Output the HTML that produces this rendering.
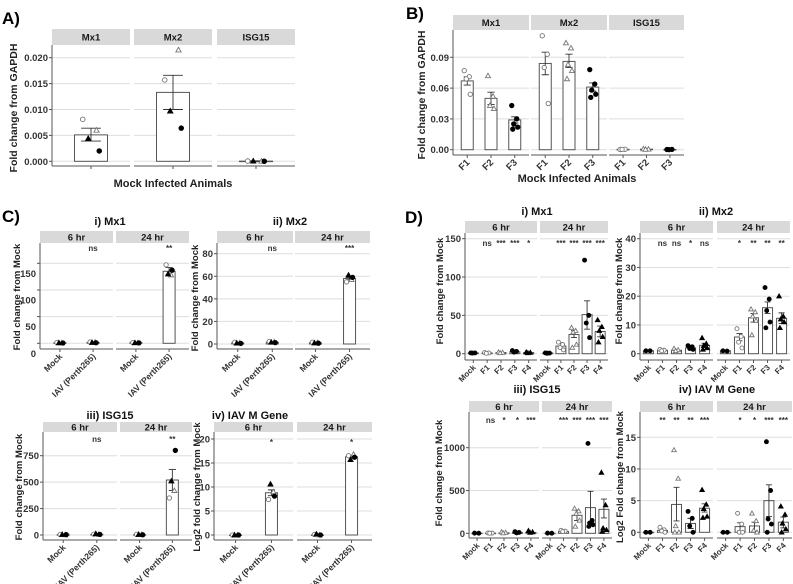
<!DOCTYPE html>
<html><head><meta charset="utf-8"><style>
html,body{margin:0;padding:0;background:#fff;}
svg{display:block;font-family:"Liberation Sans",Arial,sans-serif;}
</style></head>
<body>
<svg id="fig" width="793" height="584" viewBox="0 0 793 584" xmlns="http://www.w3.org/2000/svg">
<text x="2" y="24" font-size="17" font-weight="bold">A)</text>
<text x="406" y="19" font-size="17" font-weight="bold">B)</text>
<text x="2" y="222" font-size="17" font-weight="bold">C)</text>
<text x="405" y="223" font-size="17" font-weight="bold">D)</text>
<text x="173" y="187" font-size="11" font-weight="bold" text-anchor="middle" fill="#222">Mock Infected Animals</text>
<text x="577" y="182" font-size="11" font-weight="bold" text-anchor="middle" fill="#222">Mock Infected Animals</text>
</svg>
<script>
// ---------- DATA ----------
const A_facets = ['Mx1','Mx2','ISG15'];
const A_cats = [''];
const A_means = [[0.0051],[0.0133],[0.00003]];
const A_lo = [[0.0039],[0.0100],[0.0]];
const A_hi = [[0.0064],[0.0166],[0.0001]];
const A_pts = [[[0.0081,0.006,0.0044,0.002]],[[0.0157,0.0215,0.0097,0.0064]],[[0.00005,0.00002,0.00004,0.00001]]];
const A_ticks = [0,0.005,0.010,0.015,0.020];
const A_tickLabels = ['0.000','0.005','0.010','0.015','0.020'];

const B_facets = ['Mx1','Mx2','ISG15'];
const B_cats = ['F1','F2','F3'];
const B_means = [[0.067,0.050,0.029],[0.084,0.086,0.061],[0.0003,0.0005,0.0002]];
const B_lo = [[0.063,0.044,0.026],[0.073,0.080,0.057],[0,0,0]];
const B_hi = [[0.071,0.056,0.032],[0.095,0.093,0.065],[0.0006,0.001,0.0004]];
const B_pts = [
  [[0.077,0.071,0.069,0.054],[0.072,0.052,0.043,0.040],[0.043,0.030,0.025,0.022,0.020]],
  [[0.111,0.093,0.080,0.045],[0.104,0.099,0.083,0.077,0.069],[0.078,0.064,0.058,0.054,0.051]],
  [[0.0002,0.0004,0.0003],[0.0008,0.0005,0.0003],[0.0002,0.0003,0.0001]]];
const B_ticks = [0,0.03,0.06,0.09];
const B_tickLabels = ['0.00','0.03','0.06','0.09'];

const C_facets = ['6 hr','24 hr'];
const C_cats = ['Mock','IAV (Perth265)'];

const C1_means = [[1,1.5],[1,135]];
const C1_lo = [[0.8,1],[0.8,128]];
const C1_hi = [[1.2,2],[1.2,142]];
const C1_pts = [[[1.5,1,0.8,0.5],[2.5,2,1.5,1]],[[1.2,1,0.9,0.7],[147,128,130,137]]];
const C1_sig = [['','ns'],['','**']];
const C1_ticks = [0,50,100,150];
const C1_tickLabels = ['0','50','100','150'];

const C2_means = [[1,1.5],[1,58]];
const C2_lo = [[0.8,1.2],[0.8,57]];
const C2_hi = [[1.2,1.8],[1.2,59]];
const C2_pts = [[[1.5,1,0.8,0.5],[2.2,1.8,1.5,1.2]],[[1.5,1.2,0.9,0.7],[55,57,61,59]]];
const C2_sig = [['','ns'],['','***']];
const C2_ticks = [0,20,40,60,80];
const C2_tickLabels = ['0','20','40','60','80'];

const C3_means = [[3,6],[3,520]];
const C3_lo = [[1,4],[1,420]];
const C3_hi = [[5,8],[5,620]];
const C3_pts = [[[5,2,4,3],[8,5,12,6]],[[6,3,5,2],[350,420,510,800]]];
const C3_sig = [['','ns'],['','**']];
const C3_ticks = [0,250,500,750];
const C3_tickLabels = ['0','250','500','750'];

const C4_means = [[0,8.8],[0,16.3]];
const C4_lo = [[0,8.2],[0,16.1]];
const C4_hi = [[0,9.4],[0,16.5]];
const C4_pts = [[[0,0,0,0],[7.4,9,10.6,8.1]],[[0.1,0,0.2,0],[16.5,16.8,15.7,16.2]]];
const C4_sig = [['','*'],['','*']];
const C4_ticks = [0,5,10,15,20];
const C4_tickLabels = ['0','5','10','15','20'];

const D_facets = ['6 hr','24 hr'];
const D_cats = ['Mock','F1','F2','F3','F4'];

const D1_means = [[1,1,1.5,2.5,1.5],[1,10,25,51,29]];
const D1_lo = [[0.8,0.8,1,2,1],[0.8,7,21,32,22]];
const D1_hi = [[1.2,1.2,2,3,2],[1.2,13,30,69,36]];
const D1_pts = [
  [[1,1,0.8],[1.5,1,0.5],[2,1.5,1],[4,3,2],[2,1.5,1]],
  [[1,0.8,0.6],[15,12,8,5],[34,30,28,12,8],[122,50,40,21],[44,35,30,22,15]]];
const D1_sig = [['','ns','***','***','*'],['','***','***','***','***']];
const D1_ticks = [0,50,100,150];
const D1_tickLabels = ['0','50','100','150'];

const D2_means = [[1,1.2,1.2,2,2.9],[1,5.8,12.5,16,12.3]];
const D2_lo = [[0.9,1,1,1.6,2.2],[0.9,4.5,11,14,10.5]];
const D2_hi = [[1.1,1.4,1.4,2.4,3.6],[1.1,7,14,18,14.2]];
const D2_pts = [
  [[1,1],[1.5,1.2,1],[1.8,1.3,1],[2.8,2.4,1.8,1.5],[5.5,3.5,2.8,2,1.5]],
  [[1,0.9],[8.7,6,4,2],[15.5,14.5,13,11.5,6.5],[23,19,15,11,9],[20,13,12,11,9]]];
const D2_sig = [['','ns','ns','*','ns'],['','*','**','**','**']];
const D2_ticks = [0,10,20,30,40];
const D2_tickLabels = ['0','10','20','30','40'];

const D3_means = [[1,2,5,8,10],[1,20,210,300,280]];
const D3_lo = [[0,1,3,5,6],[0,15,150,110,180]];
const D3_hi = [[2,3,7,11,14],[2,30,270,490,400]];
const D3_pts = [
  [[2,1],[4,2,1],[15,8,3],[18,10,5],[30,15,8]],
  [[2,1],[35,25,20],[290,260,230,150,80],[1050,150,120,100,80],[710,330,60,40,20]]];
const D3_sig = [['','ns','*','*','***'],['','***','***','***','***']];
const D3_ticks = [0,500,1000];
const D3_tickLabels = ['0','500','1000'];

const D4_means = [[0,0.3,4.4,1.4,3.8],[0,0.9,1,5,1.6]];
const D4_lo = [[0,0.1,1.8,0.6,3.2],[0,0.2,0.2,2.5,0.7]];
const D4_hi = [[0,0.5,7.1,2.2,4.5],[0,1.5,1.6,7.5,2.4]];
const D4_pts = [
  [[0,0],[0.8,0.4,0.2,0],[13,8.5,1,0,0],[3.3,2.2,1,0],[6.7,4.4,3.7,2.5,2.3]],
  [[0,0],[3,1.3,0,0],[3,1.8,0.3,0],[14.3,6.6,2.1,1.3,0],[4.1,2.8,1.4,0.5,0]]];
const D4_sig = [['','**','**','**','***'],['','*','*','***','***']];
const D4_ticks = [0,5,10,15];
const D4_tickLabels = ['0','5','10','15'];

// ---------- DRAWING ----------
const NS = 'http://www.w3.org/2000/svg';
const svg = document.getElementById('fig');
function mk(tag, attrs, parent){
  const e = document.createElementNS(NS, tag);
  for (const k in attrs) e.setAttribute(k, attrs[k]);
  (parent||svg).appendChild(e);
  return e;
}
const jit = [-3,2,-1,3,-2,1];

function drawShape(g, shape, x, y, r){
  let e;
  if (shape==='oc' || shape==='fc'){
    e = mk('circle',{cx:x,cy:y,r:r,fill:shape==='fc'?'#000':'#fff',stroke:shape==='fc'?'#000':'#777','stroke-width':0.9},g);
  } else {
    const h=r*1.15;
    e = mk('polygon',{points:`${x},${y-h} ${x-h},${y+h*0.75} ${x+h},${y+h*0.75}`,fill:shape==='ft'?'#000':'#fff',stroke:shape==='ft'?'#000':'#777','stroke-width':0.9},g);
  }
  
  
}

function panel(c){
  const g = mk('g',{});
  
  
  const sy = v => c.y0 + v*(c.y1px - c.y0)/c.y1v;
  const n = c.cats.length;
  c.fx.forEach((fx, fi)=>{
    const [x0,x1] = fx;
    const fg = mk('g',{},g);
    
    
    const sr = mk('rect',{x:x0,y:c.sTop,width:x1-x0,height:c.sBot-c.sTop,fill:'#d9d9d9'},fg);
    
    
    const st = mk('text',{x:(x0+x1)/2,y:(c.sTop+c.sBot)/2+3.5,'font-size':9.5,'font-weight':'bold','text-anchor':'middle',fill:'#1a1a1a'},fg);
    st.textContent = c.facets[fi];
    
    
    c.ticks.forEach(t=>{
      const gl = mk('line',{x1:x0,x2:x1,y1:sy(t),y2:sy(t),stroke:'#dedede','stroke-width':1},fg);
      
      
    });
    const xa = mk('line',{x1:x0,x2:x1,y1:c.axisY,y2:c.axisY,stroke:'#555','stroke-width':1},fg);
    
    
    for (let i=0;i<n;i++){
      const cx = x0 + (x1-x0)*(i+0.6)/(n+0.2);
      const m = c.means[fi][i];
      const bar = mk('rect',{x:cx-c.barW/2,y:sy(m),width:c.barW,height:Math.max(0.5,sy(0)-sy(m)),fill:'#fff',stroke:'#555','stroke-width':1},fg);
      
      
      const lo = sy(c.lo[fi][i]), hi = sy(c.hi[fi][i]);
      const eb = mk('path',{d:`M${cx},${lo}V${hi}M${cx-c.barW*0.3},${lo}H${cx+c.barW*0.3}M${cx-c.barW*0.3},${hi}H${cx+c.barW*0.3}`,stroke:'#333','stroke-width':0.9,fill:'none'},fg);
      
      
      c.pts[fi][i].forEach((p,k)=>{
        const shape = c.shapeByCat ? c.shapeByCat[i] : c.shapeOrder[k % c.shapeOrder.length];
        drawShape(fg, shape, cx + jit[k % jit.length]*(c.barW/12), sy(p), c.r||2.2);
      });
      const tk = mk('line',{x1:cx,x2:cx,y1:c.axisY,y2:c.axisY+3,stroke:'#555','stroke-width':1},fg);
      
      
      if (c.cats[i]){
        const tl = mk('text',{x:cx+3,y:c.axisY+8,'font-size':c.xfs||8.5,'font-weight':'bold','text-anchor':'end',fill:'#333',transform:`rotate(-45 ${cx+3} ${c.axisY+8})`},fg);
        tl.textContent = c.cats[i];
        
        
      }
      if (c.sig && c.sig[fi][i]){
        const s = mk('text',{x:cx,y:c.sigY,'font-size':8,'font-weight':'bold','text-anchor':'middle',fill:'#333'},fg);
        s.textContent = c.sig[fi][i];
        
        
      }
    }
  });
  const ax = c.fx[0][0];
  const ya = mk('line',{x1:ax,x2:ax,y1:c.sBot,y2:c.axisY,stroke:'#555','stroke-width':1},g);
  
  
  c.ticks.forEach((t,i)=>{
    const tm = mk('line',{x1:ax-3,x2:ax,y1:sy(t),y2:sy(t),stroke:'#555','stroke-width':1},g);
    
    
    const tl = mk('text',{x:ax-4,y:sy(t)+3.5+(c.lblOff||0),'font-size':9.5,'font-weight':'bold','text-anchor':'end',fill:'#333'},g);
    tl.textContent = c.tickLabels[i];
    
    
  });
  const yt = mk('text',{x:c.ylx,y:c.yly,'font-size':c.ylfs||9.5,'font-weight':'bold','text-anchor':'middle',fill:'#222',transform:`rotate(-90 ${c.ylx} ${c.yly})`},g);
  yt.textContent = c.ylab;
  
  
  if (c.title){
    const tt = mk('text',{x:c.tx,y:c.ty,'font-size':11,'font-weight':'bold','text-anchor':'middle',fill:'#111'},g);
    tt.textContent = c.title;
    
    
  }
}

panel({name:'panel-a',facets:A_facets,cats:A_cats,means:A_means,lo:A_lo,hi:A_hi,pts:A_pts,ticks:A_ticks,tickLabels:A_tickLabels,
  fx:[[52,130],[134,212],[217,295]],y0:161.3,y1v:0.020,y1px:57.7,sTop:29,sBot:45,axisY:166,barW:33,
  shapeOrder:['oc','ot','ft','fc'],r:2.3,ylab:'Fold change from GAPDH',ylx:17,yly:108,ylfs:10.5});
panel({name:'panel-b',facets:B_facets,cats:B_cats,means:B_means,lo:B_lo,hi:B_hi,pts:B_pts,ticks:B_ticks,tickLabels:B_tickLabels,
  fx:[[453,529],[531,607],[609,684]],y0:149.7,y1v:0.09,y1px:57.3,sTop:15,sBot:30,axisY:155,barW:12,xfs:9.5,
  shapeByCat:['oc','ot','fc'],r:2.2,ylab:'Fold change from GAPDH',ylx:425,yly:95,ylfs:10.5});

const Cshapes=['oc','ot','ft','fc'];
panel({name:'panel-c-mx1',facets:C_facets,cats:C_cats,means:C1_means,lo:C1_lo,hi:C1_hi,pts:C1_pts,sig:C1_sig,ticks:C1_ticks,tickLabels:C1_tickLabels,
  fx:[[40,113],[116,189]],y0:343.3,y1v:150,y1px:263.3,lblOff:10,sTop:231,sBot:243,axisY:349,barW:12,sigY:251,
  shapeOrder:Cshapes,ylab:'Fold change from Mock',ylx:20,yly:297,title:'i) Mx1',tx:110,ty:225});
panel({name:'panel-c-mx2',facets:C_facets,cats:C_cats,means:C2_means,lo:C2_lo,hi:C2_hi,pts:C2_pts,sig:C2_sig,ticks:C2_ticks,tickLabels:C2_tickLabels,
  fx:[[217,293],[295,370]],y0:344,y1v:80,y1px:253.7,sTop:231,sBot:243,axisY:349,barW:12,sigY:251,
  shapeOrder:Cshapes,ylab:'Fold change from Mock',ylx:198,yly:298,title:'ii) Mx2',tx:290,ty:225});
panel({name:'panel-c-isg15',facets:C_facets,cats:C_cats,means:C3_means,lo:C3_lo,hi:C3_hi,pts:C3_pts,sig:C3_sig,ticks:C3_ticks,tickLabels:C3_tickLabels,
  fx:[[43,117],[120,192]],y0:535,y1v:750,y1px:455.7,sTop:422,sBot:432,axisY:540,barW:12,sigY:442,
  shapeOrder:Cshapes,ylab:'Fold change from Mock',ylx:22,yly:487,title:'iii) ISG15',tx:110,ty:419});
panel({name:'panel-c-iav-m',facets:C_facets,cats:C_cats,means:C4_means,lo:C4_lo,hi:C4_hi,pts:C4_pts,sig:C4_sig,ticks:C4_ticks,tickLabels:C4_tickLabels,
  fx:[[214,293],[297,372]],y0:535,y1v:20,y1px:439,sTop:422,sBot:432,axisY:540,barW:12,sigY:445,
  shapeOrder:Cshapes,ylab:'Log2 fold change from Mock',ylx:200,yly:487,title:'iv) IAV M Gene',tx:250,ty:419});

const Dshapes=['fc','oc','ot','fc','ft'];
panel({name:'panel-d-mx1',facets:D_facets,cats:D_cats,means:D1_means,lo:D1_lo,hi:D1_hi,pts:D1_pts,sig:D1_sig,ticks:D1_ticks,tickLabels:D1_tickLabels,
  fx:[[465,537],[540,608]],y0:353.7,y1v:150,y1px:238.7,sTop:221,sBot:233,axisY:360,barW:10,sigY:246,xfs:8,
  shapeByCat:Dshapes,r:2,ylab:'Fold change from Mock',ylx:443,yly:291,title:'i) Mx1',tx:537,ty:215});
panel({name:'panel-d-mx2',facets:D_facets,cats:D_cats,means:D2_means,lo:D2_lo,hi:D2_hi,pts:D2_pts,sig:D2_sig,ticks:D2_ticks,tickLabels:D2_tickLabels,
  fx:[[640,713],[717,790]],y0:353.7,y1v:40,y1px:238.7,sTop:221,sBot:233,axisY:360,barW:10,sigY:246,xfs:8,
  shapeByCat:Dshapes,r:2,ylab:'Fold change from Mock',ylx:622,yly:291,title:'ii) Mx2',tx:716,ty:215});
panel({name:'panel-d-isg15',facets:D_facets,cats:D_cats,means:D3_means,lo:D3_lo,hi:D3_hi,pts:D3_pts,sig:D3_sig,ticks:D3_ticks,tickLabels:D3_tickLabels,
  fx:[[469,539],[542,612]],y0:533.3,y1v:1000,y1px:447.7,sTop:401,sBot:412,axisY:538,barW:10,sigY:423,xfs:8,
  shapeByCat:Dshapes,r:2,ylab:'Fold change from Mock',ylx:442,yly:473,title:'iii) ISG15',tx:537,ty:393});
panel({name:'panel-d-iav-m',facets:D_facets,cats:D_cats,means:D4_means,lo:D4_lo,hi:D4_hi,pts:D4_pts,sig:D4_sig,ticks:D4_ticks,tickLabels:D4_tickLabels,
  fx:[[640,713],[717,792]],y0:532.3,y1v:15,y1px:437.3,sTop:401,sBot:412,axisY:538,barW:10,sigY:423,xfs:8,
  shapeByCat:Dshapes,r:2,ylab:'Log2 Fold change from Mock',ylx:623,yly:477,title:'iv) IAV M Gene',tx:717,ty:393});
</script>
</body></html>
